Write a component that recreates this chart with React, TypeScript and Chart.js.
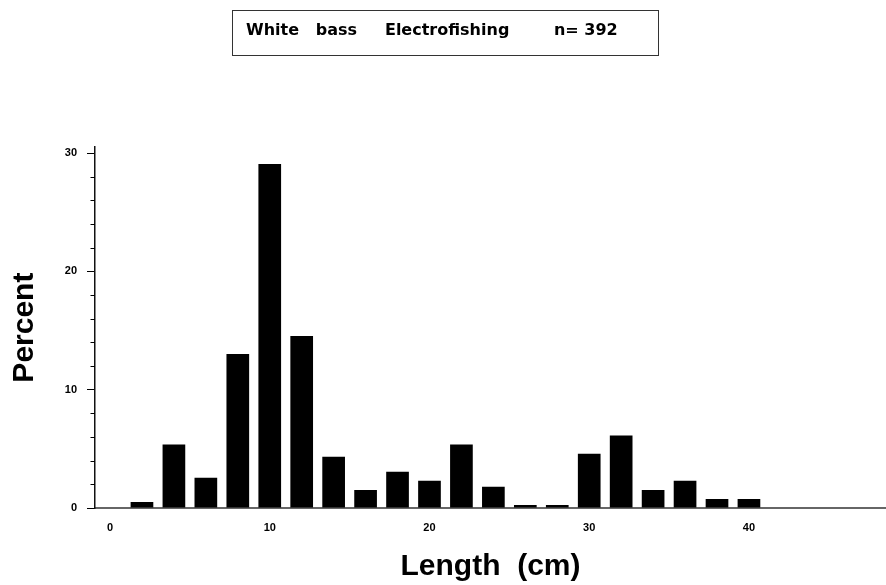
import { useEffect, useRef } from "react";
import { Chart, registerables } from "chart.js";

Chart.register(...registerables);

// ---- Data ----
const lengthMidpoints = [2, 4, 6, 8, 10, 12, 14, 16, 18, 20, 22, 24, 26, 28, 30, 32, 34, 36, 38, 40];
const percentValues = [0.51, 5.36, 2.55, 13.01, 29.08, 14.54, 4.34, 1.53, 3.06, 2.3, 5.36, 1.79, 0.26, 0.26, 4.59, 6.12, 1.53, 2.3, 0.77, 0.77];
const xTickValues = [0, 10, 20, 30, 40];
const yTickValues = [0, 10, 20, 30];
const yMinorStep = 2;
const titleText = "White   bass     Electrofishing        n= 392    ";
const xAxisTitle = "Length  (cm)";
const yAxisTitle = "Percent";

const TITLE_FONT = { family: '"DejaVu Sans", sans-serif', size: 16, weight: "bold" as const, lineHeight: 1.2 };
const TITLE_PAD_TOP = 21.4;

const titleBoxPlugin = {
  id: "titleBox",
  afterDraw(chart: any) {
    const ctx = chart.ctx as CanvasRenderingContext2D;
    ctx.save();
    ctx.font = `bold ${TITLE_FONT.size}px ${TITLE_FONT.family}`;
    const w = ctx.measureText(titleText).width;
    const cx = chart.width / 2;
    const cy = TITLE_PAD_TOP + (TITLE_FONT.size * TITLE_FONT.lineHeight) / 2;
    ctx.strokeStyle = "#333";
    ctx.lineWidth = 1;
    const left = Math.round(cx - w / 2 - 14) + 0.5;
    const right = Math.round(cx + w / 2 + 18) + 0.5;
    const top = Math.round(cy - 21) + 0.5;
    const bottom = Math.round(cy + 24) + 0.5;
    ctx.strokeRect(left, top, right - left, bottom - top);
    ctx.restore();
  },
};

const minorTickPlugin = {
  id: "minorTicks",
  afterDraw(chart: any) {
    const ys = chart.scales.y;
    const left = chart.chartArea.left;
    const ctx = chart.ctx as CanvasRenderingContext2D;
    ctx.save();
    ctx.strokeStyle = "#000";
    ctx.lineWidth = 1;
    ctx.beginPath();
    for (let v = 0; v <= ys.max + 1e-9; v += yMinorStep) {
      if (yTickValues.includes(v)) continue;
      const py = Math.round(ys.getPixelForValue(v)) + 0.5;
      ctx.moveTo(left - 4.5, py);
      ctx.lineTo(left, py);
    }
    ctx.stroke();
    ctx.restore();
  },
};

export default function App() {
  const canvasRef = useRef<HTMLCanvasElement | null>(null);

  useEffect(() => {
    document.body.style.margin = "0";
    const canvas = canvasRef.current;
    if (!canvas) return;
    const tickFont = { family: '"Liberation Sans", Arial, sans-serif', size: 11, weight: "bold" as const };
    const axisTitleFont = { family: '"Liberation Sans", Arial, sans-serif', size: 30, weight: "bold" as const, lineHeight: 1.2 };

    const chart = new Chart(canvas, {
      type: "bar",
      data: {
        datasets: [
          {
            data: lengthMidpoints.map((x, i) => ({ x, y: percentValues[i] })),
            backgroundColor: "#000",
            borderWidth: 0,
            barPercentage: 0.71,
            categoryPercentage: 1,
          },
        ],
      },
      options: {
        responsive: false,
        animation: false,
        devicePixelRatio: 1,
        layout: { padding: 0 },
        plugins: {
          legend: { display: false },
          tooltip: { enabled: false },
          title: {
            display: true,
            text: titleText,
            color: "#000",
            font: TITLE_FONT,
            padding: { top: TITLE_PAD_TOP, bottom: 106.6 },
          },
        },
        scales: {
          x: {
            type: "linear",
            offset: false,
            min: -0.94,
            max: 48.58,
            afterFit: (s: any) => {
              s.height = 77;
            },
            afterBuildTicks: (s: any) => {
              s.ticks = xTickValues.map((v) => ({ value: v }));
            },
            ticks: {
              stepSize: 10,
              autoSkip: false,
              maxRotation: 0,
              includeBounds: false,
              color: "#000",
              font: tickFont,
              padding: 13,
            },
            grid: { display: true, offset: false, drawOnChartArea: false, drawTicks: false },
            border: { display: true, color: "#666", width: 2 },
            title: {
              display: true,
              text: xAxisTitle,
              color: "#000",
              font: axisTitleFont,
              padding: { top: 0, bottom: 0 },
            },
          },
          y: {
            type: "linear",
            min: 0,
            max: 30.5,
            afterFit: (s: any) => {
              s.width = 95;
            },
            afterBuildTicks: (s: any) => {
              s.ticks = yTickValues.map((v) => ({ value: v }));
            },
            ticks: {
              stepSize: 10,
              includeBounds: false,
              color: "#000",
              font: tickFont,
              padding: 10,
            },
            grid: { display: true, drawOnChartArea: false, drawTicks: true, tickLength: 8, tickColor: "#000", tickWidth: 1 },
            border: { display: true, color: "#111", width: 1.5 },
            title: {
              display: true,
              text: yAxisTitle,
              color: "#000",
              font: axisTitleFont,
              padding: { top: 6.6, bottom: 0 },
            },
          },
        },
      },
      plugins: [titleBoxPlugin, minorTickPlugin],
    } as any);

    return () => chart.destroy();
  }, []);

  return (
    <div style={{ width: 886, height: 585 }}>
      <canvas ref={canvasRef} width={886} height={585} style={{ display: "block" }} />
    </div>
  );
}
